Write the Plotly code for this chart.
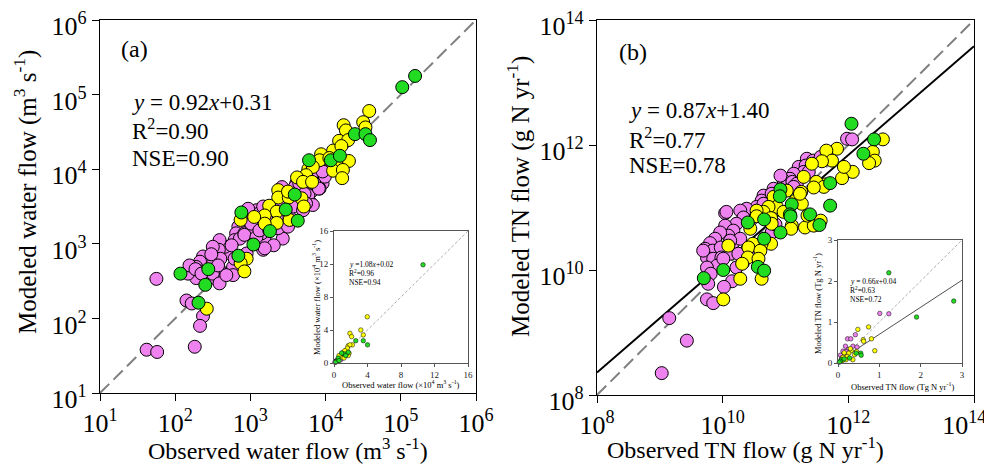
import plotly.graph_objects as go

# ---------------- Panel (a): water flow, log10 values (m3 s-1) ----------------
wa_green_x = [5.19, 5.02, 4.39, 4.53, 4.59, 3.78, 4.07, 4.19, 3.59, 3.47, 3.63, 3.26, 3.04, 2.88, 2.84, 2.44, 2.07, 2.40, 2.31]
wa_green_y = [5.25, 5.10, 4.47, 4.47, 4.39, 4.12, 4.12, 4.18, 3.66, 3.46, 3.31, 3.17, 2.99, 3.42, 2.84, 2.66, 2.60, 2.45, 2.21]

wa_yellow_x = [4.58, 4.50, 4.53, 4.24, 4.27, 4.18, 4.30, 4.10, 4.21, 3.94, 3.92, 4.05, 4.16, 4.31, 4.10, 4.23, 4.22,
               3.77, 3.83, 3.74, 3.62, 3.70, 3.82, 3.37, 3.37, 3.51, 3.50, 3.68, 3.71, 3.25, 3.35, 3.19, 3.35, 3.19,
               3.52, 3.05, 2.87, 2.95, 2.87, 2.92, 2.42]
wa_yellow_y = [4.78, 4.63, 4.56, 4.59, 4.52, 4.38, 4.39, 4.25, 4.31, 4.20, 4.12, 4.15, 4.10, 4.11, 3.98, 3.99, 3.88,
               4.00, 4.03, 3.92, 3.89, 3.83, 3.83, 3.72, 3.62, 3.62, 3.70, 3.61, 3.50, 3.51, 3.43, 3.38, 3.28, 3.27,
               3.32, 3.36, 3.32, 2.80, 2.74, 2.63, 2.13]

wa_violet_x = [4.05, 4.00, 3.94, 3.96, 3.90, 3.85, 3.81, 3.79, 3.74, 3.68, 3.61, 3.65, 3.57, 3.48, 3.42, 3.41, 3.30,
               3.28, 3.21, 3.19, 3.17, 3.15, 3.08, 3.08, 3.12, 2.97, 2.90, 2.84, 2.81, 2.79, 2.86, 2.92, 2.95, 2.81,
               2.77, 2.77, 2.73, 2.66, 2.59, 2.58, 2.60, 2.50, 2.46, 2.37, 2.33, 2.28, 2.33, 2.37, 2.28, 2.17, 2.19,
               2.58, 2.53, 2.50, 2.59, 2.68, 2.15, 2.22, 2.37, 2.33, 2.26, 1.75, 1.62, 1.76, 3.43, 3.31, 2.99, 3.01,
               3.28, 3.41, 3.61, 3.65, 3.77, 3.83, 3.92, 3.99, 2.92, 2.75, 2.79, 2.48, 2.27, 2.35, 2.57, 3.17, 3.21,
               3.08, 3.19, 3.12, 3.25, 3.37, 3.50, 3.52, 3.57, 3.70, 3.59, 3.65, 3.72, 3.74, 3.81, 3.85, 3.74, 3.88,
               3.96, 3.91]
wa_violet_y = [4.05, 3.97, 3.91, 3.81, 3.88, 3.76, 3.70, 3.56, 3.72, 3.74, 3.81, 3.71, 3.67, 3.67, 3.76, 3.56, 3.32,
               3.23, 3.18, 3.05, 2.92, 3.14, 3.23, 3.45, 3.41, 3.47, 3.32, 3.23, 3.14, 3.05, 3.07, 3.14, 2.87, 2.78,
               2.69, 2.58, 2.87, 2.96, 3.05, 2.92, 2.80, 2.96, 2.78, 2.83, 2.76, 2.69, 2.63, 2.54, 2.54, 2.60, 2.71,
               2.67, 2.54, 2.60, 2.47, 2.58, 2.24, 2.20, 2.03, 1.90, 1.62, 2.53, 1.58, 1.55, 3.07, 2.98, 3.14, 3.27,
               3.36, 3.41, 3.56, 3.52, 3.65, 3.52, 3.74, 3.90, 3.12, 2.98, 2.80, 2.86, 2.66, 2.60, 2.71, 3.50, 3.34,
               3.09, 2.94, 3.18, 3.18, 3.21, 3.23, 3.36, 3.50, 3.45, 3.76, 3.81, 3.67, 3.92, 3.88, 3.81, 3.54, 3.98,
               3.97, 3.74]

# inset (a): linear, x10^4 m3 s-1
ia_green_x = [10.63, 3.5, 4.0, 2.6, 1.7, 1.2, 0.5, 0.9, 0.3, 0.2, 1.4, 0.6]
ia_green_y = [11.9, 2.7, 2.2, 2.7, 1.3, 1.1, 0.6, 1.2, 0.2, 0.1, 0.9, 0.3]
ia_yellow_x = [3.97, 3.2, 3.5, 1.9, 2.1, 2.2, 1.7, 1.9, 1.5, 1.1, 1.6, 1.3, 1.0, 1.8, 1.7, 1.5, 0.8, 1.2, 0.6]
ia_yellow_y = [5.6, 4.0, 3.4, 3.6, 3.2, 2.2, 2.1, 2.2, 1.6, 1.3, 1.8, 1.5, 1.0, 1.2, 0.9, 1.1, 0.7, 0.6, 0.9]
ia_violet_x = [1.0, 0.7, 0.5, 0.3, 0.4, 0.2, 0.1, 0.8, 0.6]
ia_violet_y = [0.6, 0.5, 0.4, 0.3, 0.2, 0.15, 0.1, 0.4, 0.6]

# ---------------- Panel (b): TN flow, log10 values (g N yr-1) ----------------
tb_green_x = [12.05, 12.41, 12.24, 11.71, 11.71, 10.92, 10.91, 11.10, 11.07, 11.39, 11.54, 10.92, 10.66, 10.66,
              10.40, 10.01, 9.70, 10.56, 10.66, 11.08]
tb_green_y = [12.34, 12.09, 11.86, 11.39, 11.03, 11.29, 11.18, 11.05, 10.89, 10.89, 10.72, 10.60, 10.81, 10.50,
              10.76, 10.00, 9.87, 10.05, 9.99, 10.86]

tb_yellow_x = [12.55, 12.39, 12.42, 12.33, 12.07, 11.90, 11.82, 11.65, 11.74, 11.58, 11.42, 11.64, 11.49, 11.61,
               11.45, 11.25, 11.16, 11.26, 10.81, 10.86, 10.97, 10.73, 10.65, 10.54, 10.54, 10.77, 10.78, 11.10,
               11.09, 11.31, 11.45, 11.56, 11.35, 10.77, 10.62, 10.48, 10.41, 10.40, 10.60, 10.44, 10.09, 10.28,
               10.62, 10.01, 10.31, 10.57, 11.29, 11.93, 11.23, 11.02]
tb_yellow_y = [12.09, 11.89, 11.75, 11.71, 11.57, 11.47, 11.94, 11.91, 11.75, 11.74, 11.70, 11.37, 11.41, 11.33,
               11.32, 11.25, 11.11, 11.06, 11.17, 11.01, 10.93, 11.01, 10.93, 10.95, 10.86, 10.83, 10.74, 10.71,
               10.66, 10.68, 10.71, 10.79, 10.87, 10.42, 10.42, 10.42, 10.36, 10.20, 10.31, 10.66, 10.39, 9.86,
               9.86, 9.53, 10.10, 10.18, 11.49, 11.65, 11.22, 11.27]

tb_violet_x = [11.98, 12.06, 11.34, 11.44, 11.56, 11.21, 11.32, 11.29, 11.13, 11.07, 10.97, 11.02, 10.81, 10.84,
               10.92, 11.11, 11.18, 11.37, 11.13, 10.65, 10.62, 10.54, 10.38, 10.44, 10.28, 10.33, 10.22, 10.04,
               10.06, 10.04, 10.17, 10.09, 9.96, 9.88, 9.80, 9.72, 9.84, 9.97, 9.75, 9.85, 9.98, 10.12, 10.17,
               10.28, 10.32, 10.22, 10.15, 10.02, 9.75, 9.85, 9.15, 9.43, 9.03, 10.57, 10.54, 10.70, 10.78, 10.84,
               10.12, 10.25, 9.91, 9.75, 9.81, 9.77, 9.69, 10.01, 10.65, 10.78]
tb_violet_y = [12.10, 12.09, 11.78, 11.75, 11.81, 11.65, 11.67, 11.57, 11.54, 11.46, 11.43, 11.34, 11.30, 11.19,
               11.51, 11.41, 11.38, 11.57, 11.33, 11.19, 11.11, 11.01, 10.98, 10.79, 10.95, 10.84, 10.74, 10.91,
               10.93, 10.71, 10.63, 10.55, 10.60, 10.50, 10.43, 10.34, 10.31, 10.36, 10.20, 10.18, 10.20, 10.26,
               10.44, 10.50, 10.11, 10.04, 9.82, 9.73, 9.53, 9.47, 9.23, 8.87, 8.35, 10.28, 10.20, 10.50, 10.60,
               10.73, 10.47, 10.26, 10.07, 10.04, 9.94, 9.78, 10.31, 10.18, 11.06, 11.22]

# inset (b): linear, Tg N yr-1
ib_green_x = [1.23, 2.80, 1.90, 0.55, 0.56, 0.08, 0.06, 0.28, 0.44, 0.15, 0.03]
ib_green_y = [2.20, 1.51, 1.12, 0.24, 0.19, 0.08, 0.04, 0.12, 0.24, 0.10, 0.02]
ib_yellow_x = [0.74, 0.48, 0.81, 0.89, 0.61, 0.62, 0.32, 0.26, 0.40, 0.36, 0.22, 0.12, 0.19, 0.30, 0.45, 0.15, 0.10]
ib_yellow_y = [0.88, 0.82, 0.59, 0.30, 0.57, 0.53, 0.30, 0.24, 0.20, 0.08, 0.16, 0.14, 0.08, 0.35, 0.28, 0.25, 0.05]
ib_violet_x = [1.01, 1.23, 0.42, 0.23, 0.31, 0.18, 0.36, 0.46, 0.12, 0.14, 0.06, 0.25, 0.20, 0.09]
ib_violet_y = [1.21, 1.20, 0.69, 0.59, 0.59, 0.41, 0.41, 0.39, 0.29, 0.20, 0.19, 0.33, 0.28, 0.12]

# fits
fit_a = (0.92, 0.31)
fit_b = (0.87, 1.40)
fit_ib = (0.66, 0.04)

a_ticks = [1, 2, 3, 4, 5, 6]
b_ticks = [8, 10, 12, 14]
ia_ticks = [0, 4, 8, 12, 16]
ib_ticks = [0, 1, 2, 3]

VIOLET = "#EE82EE"
YELLOW = "#FFFF00"
GREEN = "#22DC22"
FONT = "Liberation Serif"
OFF = 8                      # page body margin of the html page
W, H = 992 - OFF, 472 - OFF


def px(x):
    return (x - OFF) / W


def py(y):
    return 1 - (y - OFF) / H


fig = go.Figure()


def pts(xs, ys, color, xa, ya, size, lw, log=True):
    fig.add_trace(go.Scatter(
        x=[10 ** v for v in xs] if log else xs,
        y=[10 ** v for v in ys] if log else ys,
        mode="markers", xaxis=xa, yaxis=ya, showlegend=False, cliponaxis=False,
        marker=dict(size=size, color=color, line=dict(color="black", width=lw))))


def line(xs, ys, xa, ya, color, width, dash=None):
    fig.add_trace(go.Scatter(x=xs, y=ys, mode="lines", xaxis=xa, yaxis=ya, showlegend=False,
                             line=dict(color=color, width=width, dash=dash), hoverinfo="skip"))


# panel a
line([10 ** a_ticks[0], 10 ** a_ticks[-1]], [10 ** a_ticks[0], 10 ** a_ticks[-1]], "x", "y", "#808080", 2, "13px,6px")
pts(wa_violet_x, wa_violet_y, VIOLET, "x", "y", 13, 1)
pts(wa_yellow_x, wa_yellow_y, YELLOW, "x", "y", 13, 1)
pts(wa_green_x, wa_green_y, GREEN, "x", "y", 13, 1)

# panel b
line([10 ** b_ticks[0], 10 ** b_ticks[-1]], [10 ** b_ticks[0], 10 ** b_ticks[-1]], "x2", "y2", "#808080", 2, "13px,6px")
line([10 ** b_ticks[0], 10 ** b_ticks[-1]],
     [10 ** (fit_b[0] * b_ticks[0] + fit_b[1]), 10 ** (fit_b[0] * b_ticks[-1] + fit_b[1])], "x2", "y2", "black", 2)
pts(tb_violet_x, tb_violet_y, VIOLET, "x2", "y2", 13, 1)
pts(tb_yellow_x, tb_yellow_y, YELLOW, "x2", "y2", 13, 1)
pts(tb_green_x, tb_green_y, GREEN, "x2", "y2", 13, 1)

# inset a
line([ia_ticks[0], ia_ticks[-1]], [ia_ticks[0], ia_ticks[-1]], "x3", "y3", "#999999", 0.8, "3px,2px")
pts(ia_violet_x, ia_violet_y, VIOLET, "x3", "y3", 4.5, 0.5, log=False)
pts(ia_yellow_x, ia_yellow_y, YELLOW, "x3", "y3", 4.5, 0.5, log=False)
pts(ia_green_x, ia_green_y, GREEN, "x3", "y3", 4.5, 0.5, log=False)

# inset b
line([ib_ticks[0], ib_ticks[-1]], [ib_ticks[0], ib_ticks[-1]], "x4", "y4", "#999999", 0.8, "3px,2px")
line([ib_ticks[0], ib_ticks[-1]], [fit_ib[0] * ib_ticks[0] + fit_ib[1], fit_ib[0] * ib_ticks[-1] + fit_ib[1]],
     "x4", "y4", "#222222", 0.8)
pts(ib_violet_x, ib_violet_y, VIOLET, "x4", "y4", 4.5, 0.5, log=False)
pts(ib_yellow_x, ib_yellow_y, YELLOW, "x4", "y4", 4.5, 0.5, log=False)
pts(ib_green_x, ib_green_y, GREEN, "x4", "y4", 4.5, 0.5, log=False)

main_ax = dict(type="log", showgrid=False, zeroline=False, showline=True, linecolor="black", linewidth=1.3,
               mirror=True, ticks="outside", ticklen=7, tickwidth=1, tickcolor="black", automargin=False,
               ticklabeloverflow="allow",
               tickfont=dict(family=FONT, size=26, color="black"))
in_ax = dict(showgrid=False, zeroline=False, showline=True, linecolor="#555555", linewidth=0.8,
             mirror=True, ticks="outside", ticklen=3, tickwidth=0.8, tickcolor="#555555", automargin=False,
             tickfont=dict(family=FONT, size=9, color="#222222"))

sup = lambda e: "10<sup>%d</sup>" % e
b_xtext = [sup(e) for e in b_ticks]
b_xtext[-1] = b_xtext[-1] + "\u00a0\u00a0\u00a0"   # last label sits inside the page, as in the original

fig.update_layout(
    width=W, height=H, margin=dict(l=0, r=0, t=0, b=0, autoexpand=False),
    paper_bgcolor="white", plot_bgcolor="white",
    font=dict(family=FONT, color="black"),
    xaxis=dict(main_ax, domain=[px(100), px(476)], anchor="y", range=[a_ticks[0], a_ticks[-1]],
               tickvals=[10 ** e for e in a_ticks], ticktext=[sup(e) for e in a_ticks]),
    yaxis=dict(main_ax, domain=[py(393), py(20)], anchor="x", range=[a_ticks[0], a_ticks[-1]],
               tickvals=[10 ** e for e in a_ticks], ticktext=[sup(e) for e in a_ticks], ticklabelshift=6),
    xaxis2=dict(main_ax, domain=[px(597), px(974)], anchor="y2", range=[b_ticks[0], b_ticks[-1]],
                tickvals=[10 ** e for e in b_ticks], ticktext=b_xtext),
    yaxis2=dict(main_ax, domain=[py(395), py(20)], anchor="x2", range=[b_ticks[0], b_ticks[-1]],
                tickvals=[10 ** e for e in b_ticks], ticktext=[sup(e) for e in b_ticks], ticklabelshift=6),
    xaxis3=dict(in_ax, domain=[px(334), px(468)], anchor="y3", range=[0, 16], tickvals=ia_ticks),
    yaxis3=dict(in_ax, domain=[py(363), py(231)], anchor="x3", range=[0, 16], tickvals=ia_ticks),
    xaxis4=dict(in_ax, domain=[px(838), px(962)], anchor="y4", range=[0, 3], tickvals=ib_ticks),
    yaxis4=dict(in_ax, domain=[py(363), py(240)], anchor="x4", range=[0, 3], tickvals=ib_ticks),
)


def ann(text, x, y, size, xanchor="left", angle=0, color="black"):
    fig.add_annotation(text=text, x=px(x), y=py(y), xref="paper", yref="paper", showarrow=False,
                       xanchor=xanchor, yanchor="middle", textangle=angle,
                       font=dict(family=FONT, size=size, color=color))


# axis titles
ann("Observed water flow (m<sup>3</sup> s<sup>-1</sup>)", 288, 449, 24, "center")
ann("Modeled water flow (m<sup>3</sup> s<sup>-1</sup>)", 25, 192, 25, "center", -90)
ann("Observed TN flow (g N yr<sup>-1</sup>)", 745, 448, 24, "center")
ann("Modeled TN flow (g N yr<sup>-1</sup>)", 518, 197, 25, "center", -90)

# panel labels and stats
ann("(a)", 119, 49, 24)
ann("<i>y</i> = 0.92<i>x</i>+0.31", 130, 102, 23)
ann("R<sup>2</sup>=0.90", 130, 129, 23)
ann("NSE=0.90", 130, 158, 23)
ann("(b)", 617, 52, 24)
ann("<i>y</i> = 0.87<i>x</i>+1.40", 627, 110, 23)
ann("R<sup>2</sup>=0.77", 627, 138, 23)
ann("NSE=0.78", 627, 166, 23)

# inset titles and stats
ann("Observed water flow (×10<sup>4</sup> m<sup>3</sup> s<sup>-1</sup>)", 401, 384, 8.5, "center")
ann("Modeled water flow (×10<sup>4</sup> m<sup>3</sup> s<sup>-1</sup>)", 316, 298, 8.5, "center", -90)
ann("<i>y</i> =1.08<i>x</i>+0.02", 347, 264, 7.5)
ann("R<sup>2</sup>=0.96", 347, 273, 7.5)
ann("NSE=0.94", 347, 282, 7.5)
ann("Observed TN flow (Tg N yr<sup>-1</sup>)", 902, 386, 8.5, "center")
ann("Modeled TN flow (Tg N yr<sup>-1</sup>)", 817, 304, 8.5, "center", -90)
ann("<i>y</i> = 0.66<i>x</i>+0.04", 848, 281, 7.5)
ann("R<sup>2</sup>=0.63", 848, 290, 7.5)
ann("NSE=0.72", 848, 299, 7.5)

fig.write_html("out.html")
